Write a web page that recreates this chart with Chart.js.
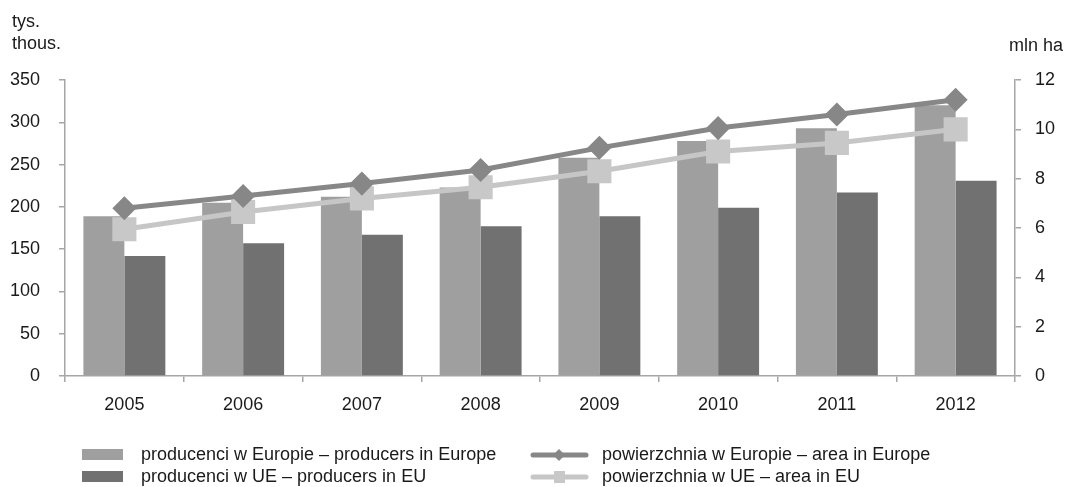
<!DOCTYPE html>
<html>
<head>
<meta charset="utf-8">
<script src="https://cdn.jsdelivr.net/npm/chart.js@4/dist/chart.umd.min.js"></script>
<style>
  html, body { margin: 0; padding: 0; background: #fff; }
  #wrap { width: 1070px; height: 487px; position: relative; }
</style>
</head>
<body>
<div id="wrap"><canvas id="chart" width="1070" height="487"></canvas></div>
<script>
// values
const years = ["2005", "2006", "2007", "2008", "2009", "2010", "2011", "2012"];
const producersEurope = [189, 205, 212, 223, 258, 278, 293, 320];
const producersEU = [142, 157, 167, 177, 189, 199, 217, 231];
const areaEurope = [6.8, 7.3, 7.8, 8.35, 9.25, 10.05, 10.6, 11.2];
const areaEU = [5.95, 6.65, 7.2, 7.65, 8.3, 9.1, 9.45, 10.0];

const leftTicks = [0, 50, 100, 150, 200, 250, 300, 350];
const rightTicks = [0, 2, 4, 6, 8, 10, 12];

const FONT = "'Liberation Sans', Arial, sans-serif";
const FSIZE = 18;
const TXT = "#1a1a1a";
const AXIS = "#a6a6a6";

// axis captions and a two column legend under the plot
const extras = {
    id: "extras",
    afterDraw(chart) {
        const ctx = chart.ctx;
        ctx.save();
        ctx.fillStyle = TXT;
        ctx.font = FSIZE + "px " + FONT;
        ctx.textBaseline = "middle";
        ctx.textAlign = "left";
        ctx.fillText("tys.", 12, 22);
        ctx.fillText("thous.", 12, 44);
        ctx.textAlign = "right";
        ctx.fillText("mln ha", 1063, 46);

        // legend: bars in the first column, lines in the second
        const cols = [82, 530];
        const rows = [455, 477];
        chart.data.datasets.forEach((ds, di) => {
            const x = cols[ds.type === "line" ? 1 : 0];
            const y = rows[di % 2];
            if (ds.type === "line") {
                ctx.strokeStyle = ds.borderColor;
                ctx.lineWidth = 5;
                ctx.lineCap = "round";
                ctx.beginPath();
                ctx.moveTo(x + 3, y);
                ctx.lineTo(x + 56, y);
                ctx.stroke();
                ctx.fillStyle = ds.pointBackgroundColor;
                ctx.beginPath();
                if (ds.pointStyle === "rectRot") {
                    ctx.moveTo(x + 29, y - 6);
                    ctx.lineTo(x + 35, y);
                    ctx.lineTo(x + 29, y + 6);
                    ctx.lineTo(x + 23, y);
                } else {
                    ctx.rect(x + 24, y - 6, 11, 12);
                }
                ctx.fill();
            } else {
                ctx.fillStyle = ds.backgroundColor;
                ctx.fillRect(x, y - 6, 41, 11);
            }
            ctx.fillStyle = TXT;
            ctx.textAlign = "left";
            ctx.fillText(ds.label, x + (ds.type === "line" ? 72 : 59), y);
        });
        ctx.restore();
    }
};

new Chart(document.getElementById("chart"), {
    data: {
        labels: years,
        datasets: [
            {
                type: "bar",
                label: "producenci w Europie – producers in Europe",
                data: producersEurope,
                backgroundColor: "#9f9f9f",
                yAxisID: "y",
                order: 2,
                categoryPercentage: 0.69,
                barPercentage: 1
            },
            {
                type: "bar",
                label: "producenci w UE – producers in EU",
                data: producersEU,
                backgroundColor: "#717171",
                yAxisID: "y",
                order: 2,
                categoryPercentage: 0.69,
                barPercentage: 1
            },
            {
                type: "line",
                label: "powierzchnia w Europie – area in Europe",
                data: areaEurope,
                borderColor: "#878787",
                pointBackgroundColor: "#878787",
                pointBorderColor: "#878787",
                pointStyle: "rectRot",
                pointRadius: 8.5,
                borderWidth: 5,
                yAxisID: "y1",
                order: 0
            },
            {
                type: "line",
                label: "powierzchnia w UE – area in EU",
                data: areaEU,
                borderColor: "#c6c6c6",
                pointBackgroundColor: "#c8c8c8",
                pointBorderColor: "#c8c8c8",
                pointStyle: "rect",
                pointRadius: 13.5,
                borderWidth: 5,
                yAxisID: "y1",
                order: 1
            }
        ]
    },
    options: {
        responsive: false,
        animation: false,
        layout: { padding: { top: 80, left: 0, right: 0, bottom: 0 } },
        plugins: {
            legend: { display: false },
            tooltip: { enabled: false }
        },
        scales: {
            x: {
                offset: true,
                grid: { drawOnChartArea: false, offset: true, tickLength: 6, color: AXIS, lineWidth: 1.5 },
                border: { color: AXIS, width: 1.5 },
                ticks: { color: TXT, font: { family: FONT, size: FSIZE }, padding: 12 },
                afterFit(scale) { scale.height = 111; }
            },
            y: {
                position: "left",
                min: 0,
                max: 350,
                afterBuildTicks(scale) { scale.ticks = leftTicks.map(v => ({ value: v })); },
                grid: { drawOnChartArea: false, tickLength: 6, color: AXIS, lineWidth: 1.5 },
                border: { color: AXIS, width: 1.5 },
                ticks: { color: TXT, font: { family: FONT, size: FSIZE }, padding: 19 },
                afterFit(scale) { scale.width = 65; }
            },
            y1: {
                position: "right",
                min: 0,
                max: 12,
                afterBuildTicks(scale) { scale.ticks = rightTicks.map(v => ({ value: v })); },
                grid: { drawOnChartArea: false, tickLength: 6, color: AXIS, lineWidth: 1.5 },
                border: { color: AXIS, width: 1.5 },
                ticks: { color: TXT, font: { family: FONT, size: FSIZE }, padding: 14 },
                afterFit(scale) { scale.width = 55; }
            }
        }
    },
    plugins: [extras]
});
</script>
</body>
</html>
